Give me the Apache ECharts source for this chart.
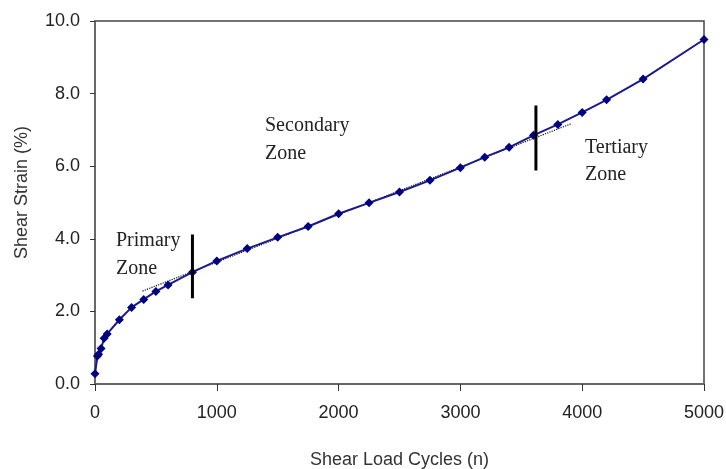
<!DOCTYPE html>
<html>
<head>
<meta charset="utf-8">
<script src="https://cdn.jsdelivr.net/npm/echarts@6/dist/echarts.min.js"></script>
<style>
  html, body { margin: 0; padding: 0; background: #fff; }
  #chart { width: 726px; height: 469px; }
</style>
</head>
<body>
<div id="chart"></div>
<script>
// shear load cycles (n) vs shear strain (%)
const cycles = [0, 20, 30, 50, 75, 100, 200, 300, 400, 500, 600, 800, 1000, 1250, 1500, 1750,
  2000, 2250, 2500, 2750, 3000, 3200, 3400, 3600, 3800, 4000, 4200, 4500, 5000]
const strain = [0.28, 0.77, 0.82, 0.98, 1.26, 1.38, 1.77, 2.11, 2.33, 2.55, 2.73, 3.08, 3.39, 3.73, 4.04, 4.34,
  4.69, 4.99, 5.29, 5.61, 5.96, 6.25, 6.52, 6.85, 7.15, 7.48, 7.83, 8.40, 9.49]

// dotted linear fit through the secondary zone
const trendX = [390, 3910]
const trendY = [2.56, 7.17]

// zone boundary markers
const primaryEndX = [800, 800]
const primaryEndY = [2.36, 4.12]
const tertiaryStartX = [3620, 3620]
const tertiaryStartY = [5.88, 7.67]

const xTicks = [0, 1000, 2000, 3000, 4000, 5000]
const yTicks = [0, 2, 4, 6, 8, 10]

const zip = (xs, ys) => xs.map((x, i) => [x, ys[i]])

const chart = echarts.init(document.getElementById('chart'))
const sans = 'Liberation Sans, Arial, sans-serif'
const serif = 'Liberation Serif, Times New Roman, serif'
const axisColor = '#666'

chart.setOption({
  animation: false,
  grid: {
    left: 95,
    right: 22,
    top: 21,
    bottom: 85,
    outerBoundsMode: 'none',
    containLabel: false,
    show: true,
    borderColor: '#444',
    borderWidth: 1.5
  },
  xAxis: {
    type: 'value',
    min: xTicks[0],
    max: xTicks[xTicks.length - 1],
    interval: 1000,
    name: 'Shear Load Cycles (n)',
    nameLocation: 'middle',
    nameGap: 67,
    nameTextStyle: { fontFamily: sans, fontSize: 18, color: '#333' },
    axisLine: { lineStyle: { color: axisColor, width: 1.5 } },
    axisTick: { length: 7, lineStyle: { color: '#333' } },
    axisLabel: {
      fontFamily: sans, fontSize: 18, color: '#222', margin: 20,
      formatter: v => String(v)
    },
    splitLine: { show: false }
  },
  yAxis: {
    type: 'value',
    min: yTicks[0],
    max: yTicks[yTicks.length - 1],
    interval: 2,
    name: 'Shear Strain (%)',
    nameLocation: 'middle',
    nameGap: 64,
    nameTextStyle: { fontFamily: sans, fontSize: 18, color: '#333', padding: [0, 0, 0, 20] },
    axisLine: { show: true, lineStyle: { color: axisColor, width: 1.5 } },
    axisTick: { show: true, length: 5, lineStyle: { color: '#333' } },
    axisLabel: {
      fontFamily: sans, fontSize: 18, color: '#222', margin: 15,
      formatter: v => v.toFixed(1)
    },
    splitLine: { show: false }
  },
  graphic: [
    { type: 'text', left: 116, top: 227, style: { text: 'Primary\nZone', font: '20px ' + serif, fill: '#222', lineHeight: 28 } },
    { type: 'text', left: 265, top: 112, style: { text: 'Secondary\nZone', font: '20px ' + serif, fill: '#222', lineHeight: 28 } },
    { type: 'text', left: 585, top: 134, style: { text: 'Tertiary\nZone', font: '20px ' + serif, fill: '#222', lineHeight: 27 } }
  ],
  series: [
    {
      name: 'trend',
      type: 'line',
      data: zip(trendX, trendY),
      symbol: 'none',
      z: 1,
      lineStyle: { color: '#111', width: 1.2, type: 'dotted' }
    },
    {
      name: 'strain',
      type: 'line',
      data: zip(cycles, strain),
      symbol: 'diamond',
      symbolSize: 9,
      z: 3,
      itemStyle: { color: '#000080' },
      lineStyle: { color: '#1a1a8c', width: 2 }
    },
    {
      name: 'primary end',
      type: 'line',
      data: zip(primaryEndX, primaryEndY),
      symbol: 'none',
      z: 4,
      lineStyle: { color: '#000', width: 3 }
    },
    {
      name: 'tertiary start',
      type: 'line',
      data: zip(tertiaryStartX, tertiaryStartY),
      symbol: 'none',
      z: 4,
      lineStyle: { color: '#000', width: 3 }
    }
  ]
})
</script>
</body>
</html>
